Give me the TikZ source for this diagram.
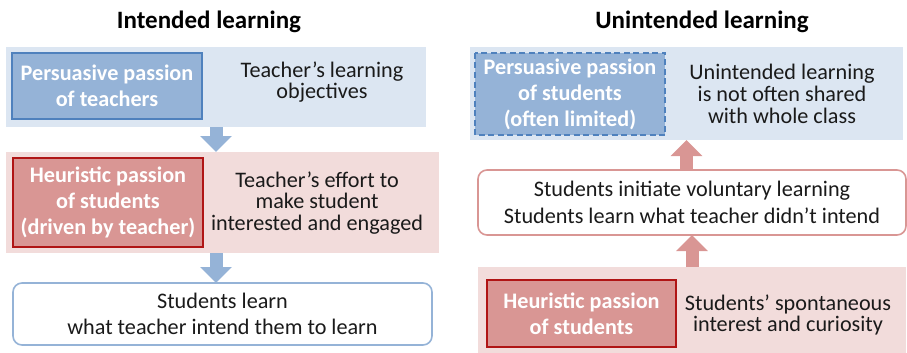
\documentclass[tikz,border=0pt]{standalone}
\usepackage{fontspec}
\setmainfont{Carlito}
\usetikzlibrary{arrows.meta}
\definecolor{bandblue}{HTML}{DCE6F2}
\definecolor{bandpink}{HTML}{F2DCDB}
\definecolor{boxblue}{HTML}{95B3D7}
\definecolor{edgeblue}{HTML}{4F81BD}
\definecolor{boxred}{HTML}{D99694}
\definecolor{edgered}{HTML}{B01515}
\definecolor{arrowblue}{HTML}{95B3D7}
\definecolor{arrowpink}{HTML}{D99694}
\definecolor{txt}{HTML}{1A1A1A}
\begin{document}
\begin{tikzpicture}[x=1pt,y=-1pt,
  band/.style={fill=#1, draw=none, inner sep=0pt, outer sep=0pt},
  keybox/.style={fill=box#1, draw=edge#1, line width=2pt, inner sep=0pt, outer sep=0pt,
     text=white, align=center, font=\fontsize{22.2}{26}\selectfont\bfseries},
  plain/.style={align=center, text=txt, inner sep=0pt, font=\fontsize{22.2}{21.7}\selectfont},
  roundbox/.style={fill=white, draw=#1, line width=1.6pt, rounded corners=9pt, inner sep=0pt,
     outer sep=0pt, align=center, text=txt, font=\fontsize{22.2}{26.5}\selectfont},
  title/.style={inner sep=0pt, font=\fontsize{25}{30}\selectfont\bfseries},
  fatarrow/.style={draw=#1, line width=13pt, line cap=butt,
     -{Triangle[width=31pt,length=16pt]}}
]
\useasboundingbox (0,0) rectangle (907,353);

% ---------- Left: intended learning ----------
\node[title] (t1) at (209,22) {Intended learning};
\node[band=bandblue, minimum width=420pt, minimum height=80pt] (b1) at (216,87) {};
\node[keybox=blue, minimum width=190pt, minimum height=66pt] (k1) at (107,86)
  {Persuasive passion\\of teachers};
\node[plain] (p1) at (322,82) {Teacher’s learning\\objectives};

\node[band=bandpink, minimum width=433pt, minimum height=101pt] (b2) at (222.5,202.5) {};
\node[keybox=red, minimum width=190pt, minimum height=89pt] (k2) at (108,202.5)
  {Heuristic passion\\of students\\(driven by teacher)};
\node[plain] (p2) at (317,203) {Teacher’s effort to\\make student\\interested and engaged};

\node[roundbox=boxblue, minimum width=419pt, minimum height=62pt] (r1) at (222.5,314)
  {Students learn\\what teacher intend them to learn};

\draw[fatarrow=arrowblue] (b1.south) -- (b1.south |- b2.north);
\draw[fatarrow=arrowblue] (b1.south |- b2.south) -- (b1.south |- r1.north);

% ---------- Right: unintended learning ----------
\node[title] (t2) at (702,22) {Unintended learning};
\node[band=bandblue, minimum width=433pt, minimum height=93pt] (b3) at (686.5,93.5) {};
\node[keybox=blue, draw=none, minimum width=190pt, minimum height=82pt] (k3) at (570,94)
  {Persuasive passion\\of students\\(often limited)};
\draw[edgeblue, line width=2pt, dash pattern=on 6pt off 3.5pt]
  (k3.north west) rectangle (k3.south east);
\node[plain] (p3) at (782,94) {Unintended learning\\is not often shared\\with whole class};

\node[roundbox=arrowpink, minimum width=428pt, minimum height=65pt] (r2) at (692,202.5)
  {Students initiate voluntary learning\\Students learn what teacher didn’t intend};

\node[band=bandpink, minimum width=428pt, minimum height=86pt] (b4) at (692,310) {};
\node[keybox=red, minimum width=189pt, minimum height=67pt] (k4) at (581.5,313.5)
  {Heuristic passion\\of students};
\node[plain] (p4) at (788,315) {Students’ spontaneous\\interest and curiosity};

\draw[fatarrow=arrowpink] (b3.south |- r2.north) -- (b3.south);
\draw[fatarrow=arrowpink] (r2.south |- b4.north) -- (r2.south);
\end{tikzpicture}
\end{document}
